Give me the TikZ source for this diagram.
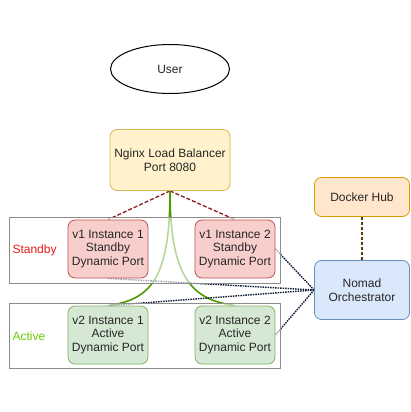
\documentclass[tikz,border=0pt]{standalone}
\usepackage{fontspec}
\setmainfont{Liberation Sans}
\usetikzlibrary{shapes,arrows,calc}
\definecolor{nginxfill}{HTML}{FFF2CC}
\definecolor{nginxline}{HTML}{D6B656}
\definecolor{v1fill}{HTML}{F8CECC}
\definecolor{v1line}{HTML}{B85450}
\definecolor{v2fill}{HTML}{D5E8D4}
\definecolor{v2line}{HTML}{82B366}
\definecolor{hubfill}{HTML}{FFE6CC}
\definecolor{hubline}{HTML}{D79B00}
\definecolor{nomadfill}{HTML}{DAE8FC}
\definecolor{nomadline}{HTML}{6C8EBF}
\definecolor{standbytext}{HTML}{E51A1A}
\definecolor{activetext}{HTML}{66CC00}
\definecolor{redlink}{HTML}{8C1A1A}
\definecolor{greenlink}{HTML}{4D9900}
\definecolor{navylink}{HTML}{0A1A33}
\definecolor{hublink}{HTML}{5A3C0A}
\pgfdeclarelayer{edges}
\pgfdeclarelayer{frames}
\pgfsetlayers{edges,frames,main}
\tikzstyle{box} = [rectangle, rounded corners=7pt, minimum width=80pt, minimum height=58pt, align=center, draw, line width=0.8pt, font=\fontsize{12}{13.5}\selectfont, text=black!85]
\tikzstyle{frame} = [rectangle, minimum width=271pt, draw=black!45, line width=0.8pt, fill=white, fill opacity=0.6]
\tikzstyle{tag} = [anchor=west, font=\fontsize{12}{13.5}\selectfont]
\tikzstyle{dashlink} = [draw, line width=1.3pt, dash pattern=on 4pt off 2pt]
\tikzstyle{dotlink} = [draw=navylink, line width=1.4pt, dash pattern=on 1.5pt off 1pt]
\tikzstyle{curvelink} = [draw=greenlink, line width=1.6pt]

\begin{document}
\begin{tikzpicture}[x=1pt, y=-1pt, node distance=127pt]
        \useasboundingbox (0,0) rectangle (411,412);
        \node (user) [ellipse, draw=black, line width=1pt, minimum width=119pt, minimum height=49pt, font=\fontsize{12}{13.5}\selectfont, text=black!85] at (170,69) {User};
        \node (nginx) [box, below of=user, node distance=91pt, fill=nginxfill, draw=nginxline, minimum width=120pt, minimum height=61pt, inner xsep=2pt] {Nginx Load Balancer\\Port 8080};
        \node (v1a) [box, fill=v1fill, draw=v1line] at (108,249) {v1 Instance 1\\Standby\\Dynamic Port};
        \node (v1b) [box, right of=v1a, fill=v1fill, draw=v1line] {v1 Instance 2\\Standby\\Dynamic Port};
        \node (v2a) [box, below of=v1a, node distance=86pt, fill=v2fill, draw=v2line] {v2 Instance 1\\Active\\Dynamic Port};
        \node (v2b) [box, right of=v2a, fill=v2fill, draw=v2line] {v2 Instance 2\\Active\\Dynamic Port};
        \node (nomad) [box, fill=nomadfill, draw=nomadline, minimum width=95pt, minimum height=59pt] at (362,290) {Nomad\\Orchestrator};
        \node (docker) [box, above of=nomad, node distance=93pt, fill=hubfill, draw=hubline, minimum width=95pt, minimum height=39pt] {Docker Hub};
        \node (standbyTag) [tag, text=standbytext] at (9,250) {Standby};
        \node (activeTag) [tag, text=activetext] at (9,336) {Active};

        \begin{pgfonlayer}{frames}
        \node (standby) [frame, minimum height=66pt] at (144.5,250) {};
        \node (active) [frame, minimum height=65pt] at (144.5,335.5) {};
        \end{pgfonlayer}

        \begin{pgfonlayer}{edges}
        \path [dashlink, draw=redlink] (nginx.south) -- (v1a.north);
        \path [dashlink, draw=redlink] (nginx.south) -- (v1b.north);
        \path [curvelink] (nginx.south) .. controls +(0,89) and +(42,-6) .. (v2a.north);
        \path [curvelink] (nginx.south) .. controls +(0,89) and +(-42,-6) .. (v2b.north);
        \path [dotlink] (nomad.west) -- (v1b.east);
        \path [dotlink] (nomad.west) -- (v1a.south);
        \path [dotlink] (nomad.west) -- (v2a.north);
        \path [dotlink] (nomad.west) -- (v2b.east);
        \path [dashlink, draw=hublink, dash pattern=on 3pt off 2pt] (docker) -- (nomad);
        \end{pgfonlayer}
    \end{tikzpicture}
\end{document}
